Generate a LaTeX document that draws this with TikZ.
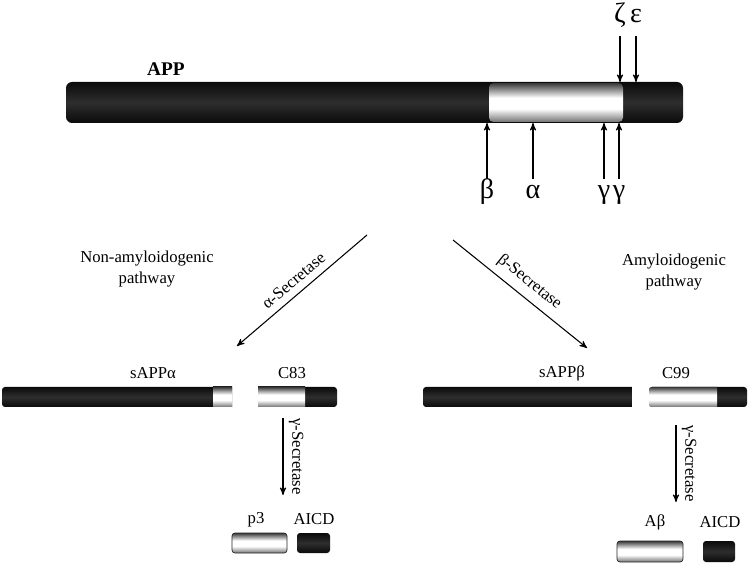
\documentclass[tikz,border=0pt]{standalone}
\usepackage{fontspec}
\setmainfont{Liberation Serif}
\usetikzlibrary{positioning}
\usetikzlibrary{arrows}
\usetikzlibrary{calc}
\pgfdeclareverticalshading{darktube}{100bp}{color(0bp)=(black!96); color(25bp)=(black!96); color(50bp)=(black!82); color(75bp)=(black!96); color(100bp)=(black!96)}
\pgfdeclareverticalshading{lighttube}{100bp}{color(0bp)=(black!55); color(25bp)=(black!55); color(42bp)=(white); color(56bp)=(white); color(75bp)=(black!78); color(100bp)=(black!78)}
\tikzset{dk/.style={shading=darktube}}
\tikzset{lt/.style={shading=lighttube}}
\tikzset{lbl/.style={inner sep=1pt,align=center,font=\fontsize{9.5}{12.5}\selectfont}}
\tikzset{site/.style={inner sep=1pt,text height=11.5pt,text depth=3.5pt,font=\fontsize{16}{16}\selectfont}}
\tikzset{ar/.style={->,line width=0.6pt}}
\tikzset{>=stealth'}

\begin{document}
\begin{tikzpicture}[x=0.02cm,y=-0.02cm]
\useasboundingbox (0,0) rectangle (750,563);

% full length APP
\shade[dk,rounded corners=3.5pt] (66,82) rectangle (683,123);
\shade[lt,rounded corners=2.5pt] (489,83) rectangle (623,122);
\coordinate (top) at (0,82);
\coordinate (bot) at (0,123);
\node[font=\bfseries\fontsize{11}{12}\selectfont] (app) at (166,69) {APP};

\node[site] (zeta) at (620,15) {ζ};
\node[site] (eps) at (636,15) {ε};
\draw[ar,shorten <=3pt] (zeta) -- (zeta |- top);
\draw[ar,shorten <=3pt] (eps) -- (eps |- top);

\node[site] (beta) at (487,191) {β};
\node[site] (alpha) at (533,191) {α};
\node[site] (gam1) at (604,191) {γ};
\node[site] (gam2) at (619,191) {γ};
\foreach \s in {beta,alpha,gam1,gam2}
  \draw[ar,shorten <=-2pt] (\s) -- (\s |- bot);

% the two pathways
\node[lbl] (nonamy) at (147,269) {Non-amyloidogenic\\pathway};
\node[lbl] (amy) at (674,272) {Amyloidogenic\\pathway};

\coordinate (asplit) at (367,235);
\coordinate (aend) at (237,346);
\coordinate (bsplit) at (453,240);
\coordinate (bend) at (587,348);
\draw[ar] (asplit) -- node[lbl,sloped,above=3pt] {α-Secretase} (aend);
\draw[ar] (bsplit) -- node[lbl,sloped,above=3pt] {β-Secretase} (bend);

% sAPPalpha + C83
\shade[dk] (232,387) [rounded corners=1.7pt] -- (2,387) -- (2,407) [sharp corners] -- (232,407) -- cycle;
\shade[lt] (213,387) rectangle (232,407);
\shade[dk] (258,387) [rounded corners=1.7pt] -- (337,387) -- (337,407) [sharp corners] -- (258,407) -- cycle;
\shade[lt] (258,387) rectangle (305,407);
\node[lbl] (sappa) at (153,373) {sAPPα};
\node[lbl] (c83) at (292,373) {C83};

% sAPPbeta + C99
\shade[dk] (632,387) [rounded corners=1.7pt] -- (423,387) -- (423,407) [sharp corners] -- (632,407) -- cycle;
\shade[dk,rounded corners=1.7pt] (649,387) rectangle (747,407);
\shade[lt] (717,387) [rounded corners=1.7pt] -- (649,387) -- (649,407) [sharp corners] -- (717,407) -- cycle;
\node[lbl] (sappb) at (562,373) {sAPPβ};
\node[lbl] (c99) at (676,373) {C99};

% gamma cleavage
\coordinate (g1s) at (283,418);
\coordinate (g1e) at (283,495);
\coordinate (g2s) at (676,425);
\coordinate (g2e) at (676,502);
\draw[ar] (g1s) -- node[lbl,rotate=-90,anchor=south,yshift=2pt] {γ-Secretase} (g1e);
\draw[ar] (g2s) -- node[lbl,rotate=-90,anchor=south,yshift=2pt] {γ-Secretase} (g2e);

\shade[lt,draw=black!85,line width=0.4pt,rounded corners=1.7pt] (232,533) rectangle (287,553);
\shade[dk,rounded corners=1.7pt] (297,533) rectangle (330,553);
\node[lbl] (p3) at (256,520) {p3};
\node[lbl] (aicd1) at (314,519) {AICD};

\shade[lt,draw=black!85,line width=0.4pt,rounded corners=1.7pt] (617,541) rectangle (683,562);
\shade[dk,rounded corners=1.7pt] (703,541) rectangle (735,562);
\node[lbl] (abeta) at (655,522) {Aβ};
\node[lbl] (aicd2) at (720,522) {AICD};
\end{tikzpicture}
\end{document}
